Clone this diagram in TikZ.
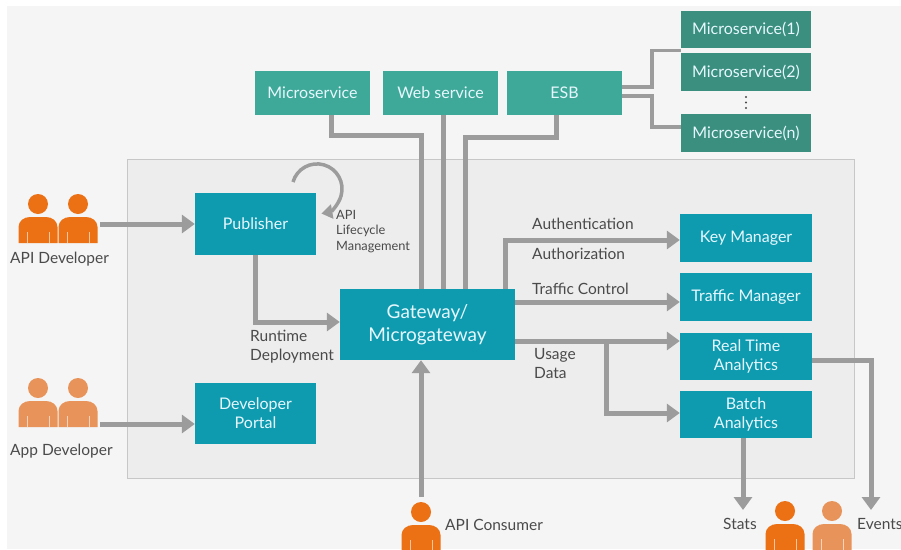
\documentclass[tikz,border=0pt]{standalone}
\usepackage{fontspec}
\setmainfont{Lato}
\usetikzlibrary{arrows.meta}
\definecolor{tealbox}{HTML}{0E9BB0}
\definecolor{greenbox}{HTML}{3FA999}
\definecolor{darkbox}{HTML}{3A8F7F}
\definecolor{flowgray}{HTML}{9C9C9C}
\definecolor{labelgray}{HTML}{4A4A4A}
\definecolor{darkorange}{HTML}{EC7014}
\definecolor{lightorange}{HTML}{E8935A}
\tikzset{
  box/.style = {fill=#1, text=white!90!cyan, inner sep=0pt, align=center, font=\fontsize{16}{19}\selectfont},
  label/.style = {text=labelgray, inner sep=0pt, align=left, font=\fontsize{15.5}{19}\selectfont},
  flow/.style = {draw=flowgray, line width=5pt, -{Triangle[length=13pt,width=18pt]}},
  link/.style = {draw=flowgray, line width=5pt},
  person/.pic = {
    \fill [#1] (0, -20) circle (10);
    \fill [#1] (-19.5, 19) -- (-19.5, 3) to [out=90, in=180] (-8, -7) -- (8, -7) to [out=0, in=90] (19.5, 3) -- (19.5, 19) -- cycle;
    \draw [white, line width=0.6pt, opacity=0.6] (-11, 19) -- (-11, 8) (11, 19) -- (11, 8);
  }
}
\begin{document}
\begin{tikzpicture}[x = 1pt, y = -1pt]
  \useasboundingbox (0, 0) rectangle (901, 549);
  \fill [white] (0, 0) rectangle (901, 549);
  \fill [black!4] (7, 6) rectangle (901, 549);
  \draw [fill=black!7, draw=black!22, line width=1pt] (127, 159) rectangle (854, 478);

  \node [box=tealbox, minimum width=121pt, minimum height=62pt] (publisher) at (255.5, 224) {Publisher};
  \node [box=tealbox, minimum width=121pt, minimum height=61pt] (portal) at (255.5, 413.5) {Developer\\Portal};
  \node [box=tealbox, minimum width=175pt, minimum height=71pt, font=\fontsize{19}{23}\selectfont] (gateway) at (427.5, 324.5) {Gateway/\\Microgateway};

  \node [box=greenbox, minimum width=115pt, minimum height=44pt] (micro) at (312.5, 93) {Microservice};
  \node [box=greenbox, minimum width=115pt, minimum height=44pt] (web) at (440.5, 93) {Web service};
  \node [box=greenbox, minimum width=115pt, minimum height=44pt] (esb) at (564.5, 93) {ESB};

  \node [box=darkbox, minimum width=130pt, minimum height=37pt] (msone) at (746, 29.5) {Microservice(1)};
  \node [box=darkbox, minimum width=130pt, minimum height=38pt] (mstwo) at (746, 72) {Microservice(2)};
  \node [box=darkbox, minimum width=130pt, minimum height=38pt] (msn) at (746, 133) {Microservice(n)};
  \foreach \doty in {97, 102.5, 108}
    \fill [labelgray] (746, \doty) circle (1.2);

  \node [box=tealbox, minimum width=132pt, minimum height=48pt] (key) at (746, 238) {Key Manager};
  \node [box=tealbox, minimum width=132pt, minimum height=48pt] (traffic) at (746, 297) {Traffic Manager};
  \node [box=tealbox, minimum width=132pt, minimum height=47pt] (realtime) at (746, 356.5) {Real Time\\Analytics};
  \node [box=tealbox, minimum width=132pt, minimum height=47pt] (batch) at (746, 414.5) {Batch\\Analytics};

  \pic at (38, 224) {person=darkorange};
  \pic at (78, 224) {person=darkorange};
  \pic at (38, 408) {person=lightorange};
  \pic at (78, 408) {person=lightorange};
  \pic at (421, 532) {person=darkorange};
  \pic at (785, 531) {person=darkorange};
  \pic at (832, 531) {person=lightorange};

  \coordinate (apidev) at (100, 224);
  \coordinate (appdev) at (100, 424);
  \coordinate (consumer) at (421, 497);
  \coordinate (stats) at (743, 510);
  \coordinate (events) at (871, 510);

  \node [label, anchor=west] (apilabel) at (10, 259) {API Developer};
  \node [label, anchor=west] (applabel) at (10, 451) {App Developer};
  \node [label, anchor=west] (consumerlabel) at (445, 525) {API Consumer};
  \node [label, anchor=west] (statslabel) at (723, 524) {Stats};
  \node [label, anchor=west] (eventslabel) at (857, 524) {Events};
  \node [label, anchor=north west, font=\fontsize{12.8}{15.5}\selectfont] (lifecycle) at (336, 210) {API\\Lifecycle\\Management};
  \node [label, anchor=north west] (runtime) at (250, 330) {Runtime\\Deployment};
  \node [label, anchor=west] (auth) at (532, 224) {Authentication};
  \node [label, anchor=west] (authz) at (532, 254) {Authorization};
  \node [label, anchor=west] (trafficlabel) at (532, 289) {Traffic Control};
  \node [label, anchor=north west] (usage) at (534, 348) {Usage\\Data};

  \draw [flow] (apidev) -- (publisher.west);
  \draw [flow] (appdev) -- (portal.west |- appdev);
  \draw [flow] (publisher.south) |- (gateway.west |- 0, 322);
  \draw [flow] (consumer) -- (gateway.south -| consumer);
  \draw [draw=flowgray, line width=3.5pt, -{Triangle[length=11pt,width=14pt]}] (293, 182) arc [start angle=196, end angle=440, radius=25];

  \draw [link] (micro.south -| 331, 0) -- (331, 135) -- (421, 135) -- (gateway.north -| 421, 0);
  \draw [link] (web.south -| 443, 0) -- (gateway.north -| 443, 0);
  \draw [link] (esb.south -| 556, 0) -- (556, 137) -- (465, 137) -- (gateway.north -| 465, 0);
  \draw [link, line width=3.5pt] (esb.east |- 0, 87) -- (652, 87) -- (652, 50.5) -- (msone.west |- 0, 50.5);
  \draw [link, line width=3.5pt] (esb.east |- 0, 96) -- (652, 96) -- (652, 127) -- (msn.west |- 0, 127);

  \draw [flow] (505, 289) -- (505, 240) -- (key.west |- 0, 240);
  \draw [flow] (gateway.east |- 0, 302) -- (traffic.west |- 0, 302);
  \draw [flow] (gateway.east |- 0, 341) -- (realtime.west |- 0, 341);
  \draw [flow] (606, 341) -- (606, 413) -- (batch.west |- 0, 413);
  \draw [flow] (realtime.east |- 0, 360) -- (871, 360) -- (events);
  \draw [flow] (batch.south -| stats) -- (stats);
\end{tikzpicture}
\end{document}
